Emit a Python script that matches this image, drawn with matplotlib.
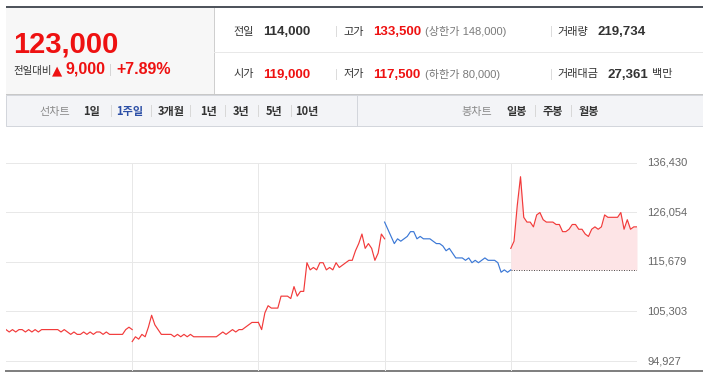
import numpy as np
import matplotlib.pyplot as plt
from matplotlib.patches import Rectangle

plt.rcParams['font.family'] = ['Noto Sans CJK KR', 'DejaVu Sans']

# 1주일 line chart, one point every 10 min per trading day (won)
day1 = [101500, 101000, 101500, 101000, 101500, 101500, 101000, 101500, 101000, 101500,
        101000, 101500, 101500, 101500, 101500, 101500, 101500, 101000, 101500, 101000,
        100500, 101000, 100500, 100500, 101000, 100500, 101000, 100500, 101000, 101000,
        100500, 101000, 100500, 100500, 100500, 100500, 100500, 101500, 102000, 101500]
day2 = [99000, 100000, 99500, 100500, 100000, 102000, 104500, 102500, 101500, 100500,
        100500, 100500, 100500, 100000, 100500, 100000, 100500, 100000, 100500, 100000,
        100000, 100000, 100000, 100000, 100000, 100000, 100000, 100500, 101000, 100500,
        101000, 101500, 101000, 101500, 101500, 102000, 102500, 103000, 103000, 103000]
day3 = [103000, 101500, 105000, 106500, 106000, 106000, 106000, 108500, 108500, 108500,
        108000, 110500, 108500, 109500, 109500, 115500, 114000, 114500, 114000, 115500,
        115500, 114000, 114500, 114000, 115500, 114500, 115000, 115500, 116000, 116000,
        118000, 119500, 121500, 118500, 119500, 118500, 116000, 117500, 121500, 120500]
day4 = [124000, 122500, 121000, 119500, 120500, 120000, 120500, 121000, 122000, 122000,
        120500, 121000, 120500, 120500, 120500, 120000, 119500, 119500, 119000, 118000,
        118500, 117500, 116500, 116500, 116500, 116000, 116500, 115500, 116000, 115500,
        116000, 116500, 116000, 116000, 116000, 115500, 113500, 114000, 113500, 114000]
day5 = [118500, 120000, 127500, 133500, 125000, 124000, 124000, 123000, 125500, 126000,
        124500, 124000, 124000, 124000, 123500, 123500, 122000, 122000, 122500, 123500,
        123500, 122500, 122500, 121500, 121000, 122500, 123000, 122500, 123000, 125500,
        125000, 125000, 125000, 125000, 126000, 122500, 124500, 122500, 123000, 123000]
days = [day1, day2, day3, day4, day5]
day_colors = ['#f23a3a', '#f23a3a', '#f23a3a', '#3b78d6', '#f23a3a']
prev_close = 114000
y_ticks = [94927, 105303, 115679, 126054, 136430]

# header quote
price = "123,000"
change = "9,000"
change_pct = "+7.89%"
quote_labels = ["전일", "고가", "거래량", "시가", "저가", "거래대금"]
quote_values = ["114,000", "133,500", "219,734", "119,000", "117,500", "27,361"]
quote_red = [False, True, False, True, True, False]
limit_text = ["(상한가 148,000)", "(하한가 80,000)"]
line_periods = ["1일", "1주일", "3개월", "1년", "3년", "5년", "10년"]
candle_periods = ["일봉", "주봉", "월봉"]

RED = '#ee1111'
DARK = '#333333'
GRAY = '#7a7a7a'
NUM = ['Liberation Sans', 'Noto Sans CJK KR']
W, H = 703, 378

fig = plt.figure(figsize=(W / 100, H / 100), dpi=100)
fig.patch.set_facecolor('white')

# overlay in pixel coordinates for the page parts
ov = fig.add_axes([0, 0, 1, 1])
ov.set_xlim(0, W)
ov.set_ylim(H, 0)
ov.axis('off')

def px(n):
    return n * 0.72

ov.add_patch(Rectangle((6, 7), 208, 87, fc='#f7f7f7', ec='none'))
ov.plot([6, W], [7, 7], color='#4f545c', lw=px(2), solid_capstyle='butt')
ov.plot([214, 214], [8, 94], color='#cfcfcf', lw=px(1))
ov.plot([214, W], [51.5, 51.5], color='#e8e8e8', lw=px(1))
ov.plot([6, W], [94, 94], color='#c8c8c8', lw=px(1))

ov.text(13, 52.5, price, color=RED, fontsize=21, fontweight='bold', family=NUM, va='baseline')
ov.text(13, 74, "전일대비", color=DARK, fontsize=7.5, va='baseline')
ov.text(52, 74, "▲", color=RED, fontsize=9.5, family=['DejaVu Sans'], va='baseline')
ov.text(65, 74, change, color=RED, fontsize=11.5, fontweight='bold', family=NUM, va='baseline')
ov.plot([110, 110], [64, 75], color='#d5d5d5', lw=px(1))
ov.text(116, 74, change_pct, color=RED, fontsize=11.5, fontweight='bold', family=NUM, va='baseline')

col_label_x = [233, 343, 557]
col_value_x = [263, 373, 597]
for k in range(6):
    row, col = divmod(k, 3)
    base = 35 if row == 0 else 77.5
    ov.text(col_label_x[col], base, quote_labels[k], color=DARK, fontsize=8, va='baseline')
    vx = col_value_x[col] if k != 5 else 608
    ov.text(vx, base, quote_values[k], color=RED if quote_red[k] else DARK,
            fontsize=9.5, fontweight='bold', family=NUM, va='baseline')
    if col == 1:
        ov.text(425, base, limit_text[row], color=GRAY, fontsize=8, family=NUM, va='baseline')
    if col > 0:
        sx = 336 if col == 1 else 551
        ov.plot([sx, sx], [base - 9, base + 1], color='#dcdcdc', lw=px(1))
ov.text(652, 77.5, "백만", color=DARK, fontsize=8, va='baseline')

# toolbar
ov.add_patch(Rectangle((6, 94.5), W - 6, 31, fc='#f3f4f7', ec='#d3d6dc', lw=px(1)))
ov.plot([357, 357], [95, 125.5], color='#d3d6dc', lw=px(1))
ov.text(55, 114.5, "선차트", color='#8a8a8a', fontsize=8, ha='center', va='baseline')
period_x = [91.5, 129.5, 171.5, 208.5, 241.5, 274.5, 307]
for i, (lab, x) in enumerate(zip(line_periods, period_x)):
    ov.text(x, 114.5, lab, color='#2c4fa6' if lab == "1주일" else DARK, fontsize=8,
            fontweight='bold', ha='center', va='baseline')
    if i > 0:
        sx = (period_x[i - 1] + x) / 2
        ov.plot([sx, sx], [105, 115.5], color='#d8d8d8', lw=px(1))
ov.text(477, 114.5, "봉차트", color='#8a8a8a', fontsize=8, ha='center', va='baseline')
candle_x = [517, 553, 589]
for i, (lab, x) in enumerate(zip(candle_periods, candle_x)):
    ov.text(x, 114.5, lab, color=DARK, fontsize=8, fontweight='bold', ha='center', va='baseline')
    if i > 0:
        sx = (candle_x[i - 1] + x) / 2
        ov.plot([sx, sx], [105, 115.5], color='#d8d8d8', lw=px(1))

ov.plot([6, W], [371, 371], color='#808080', lw=px(2), zorder=5)

# price chart
ymin, ymax = 92835, 137058
ax = fig.add_axes([6 / W, 1 - 371 / H, 631 / W, (371 - 159.7) / H])
ax.patch.set_visible(False)
ax.set_xlim(0, 5)
ax.set_ylim(ymin, ymax)
for s in ax.spines.values():
    s.set_visible(False)
ax.set_xticks([])
ax.set_yticks([])

for v in y_ticks:
    ax.axhline(v, color='#e8e8e8', lw=px(1), zorder=0)
    ax.text(1.0159, v, f"{v:,}", transform=ax.get_yaxis_transform(), color='#666666',
            fontsize=8, family=NUM, va='center')
ax.vlines([1, 2, 3, 4], ymin, y_ticks[-1], color='#e8e8e8', lw=px(1), zorder=0)

for d, (vals, c) in enumerate(zip(days, day_colors)):
    x = np.linspace(d, d + 1, len(vals))
    if d == 4:
        ax.fill_between(x, vals, prev_close, color='#fde4e6', lw=0, zorder=1)
        ax.hlines(prev_close, d, d + 1, color='#555555', lw=px(1),
                  linestyles=(0, (1, 1.5)), zorder=2)
    ax.plot(x, vals, color=c, lw=0.85, zorder=3)

fig.savefig("out.png", dpi=100)
